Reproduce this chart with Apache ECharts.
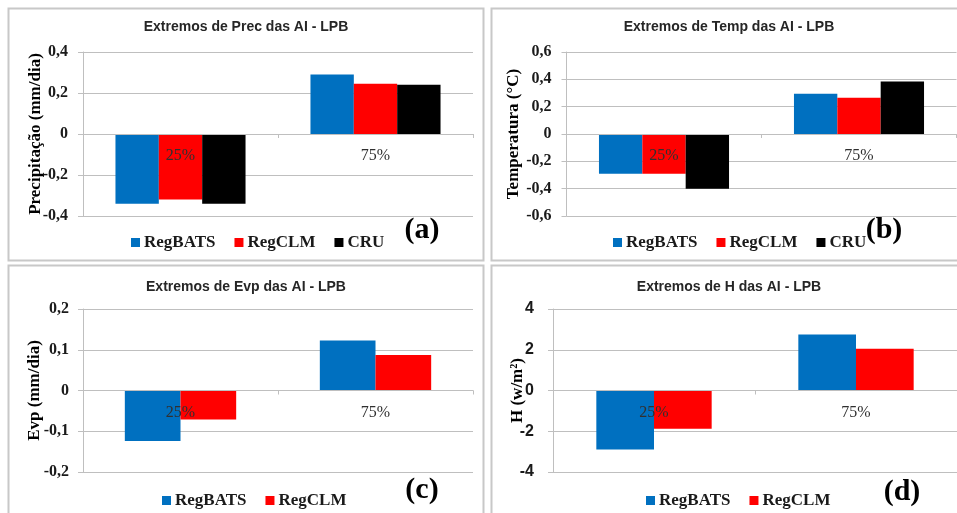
<!DOCTYPE html>
<html>
<head>
<meta charset="utf-8">
<script src="https://cdn.jsdelivr.net/npm/echarts@6/dist/echarts.min.js"></script>
<style>
  html, body { margin: 0; padding: 0; background: #ffffff; }
  #chart { width: 957px; height: 513px; }
</style>
</head>
<body>
<div id="chart"></div>
<script>
// Quartile categories
const categories = ['25%', '75%'];
const seriesNames3 = ['RegBATS', 'RegCLM', 'CRU'];
const seriesNames2 = ['RegBATS', 'RegCLM'];

// Precipitation extremes (mm/dia)
const precRegBATS = [-0.34, 0.29];
const precRegCLM  = [-0.32, 0.245];
const precCRU     = [-0.34, 0.24];

// Temperature extremes (°C)
const tempRegBATS = [-0.29, 0.295];
const tempRegCLM  = [-0.29, 0.265];
const tempCRU     = [-0.40, 0.385];

// Evaporation extremes (mm/dia)
const evpRegBATS = [-0.124, 0.123];
const evpRegCLM  = [-0.071, 0.087];

// Sensible heat flux extremes (w/m²)
const hRegBATS = [-2.9, 2.75];
const hRegCLM  = [-1.88, 2.05];

// Y axis ranges: [min, max, interval]
const precAxis = [-0.4, 0.4, 0.2];
const tempAxis = [-0.6, 0.6, 0.2];
const evpAxis  = [-0.2, 0.2, 0.1];
const hAxis    = [-4, 4, 2];

const COLORS = { RegBATS: '#0070C0', RegCLM: '#FF0000', CRU: '#000000' };
const SERIF = '"Liberation Serif", "Times New Roman", serif';
const SANS = '"Liberation Sans", Arial, sans-serif';
const GRID_GRAY = '#bfbfbf';

const panels = [
  {
    title: 'Extremos de Prec das AI - LPB', titleX: 246, titleY: 27,
    letter: '(a)', letterX: 422, letterY: 230,
    grid: { left: 83, top: 52, width: 390, height: 164 },
    axis: precAxis, yName: 'Precipitação (mm/dia)', nameGap: 39,
    labelFont: SERIF, labelMargin: 15,
    names: seriesNames3, values: [precRegBATS, precRegCLM, precCRU],
    gap: '33.3%', legend: { left: 126, top: 229 }
  },
  {
    title: 'Extremos de Temp das AI - LPB', titleX: 729, titleY: 27,
    letter: '(b)', letterX: 884, letterY: 230,
    grid: { left: 566.5, top: 52, width: 390, height: 164 },
    axis: tempAxis, yName: 'Temperatura (°C)', nameGap: 44,
    labelFont: SERIF, labelMargin: 15,
    names: seriesNames3, values: [tempRegBATS, tempRegCLM, tempCRU],
    gap: '33.3%', legend: { left: 608, top: 229 }
  },
  {
    title: 'Extremos de Evp das AI - LPB', titleX: 246, titleY: 287,
    letter: '(c)', letterX: 422, letterY: 490,
    grid: { left: 83, top: 309, width: 390, height: 163 },
    axis: evpAxis, yName: 'Evp (mm/dia)', nameGap: 40,
    labelFont: SERIF, labelMargin: 14,
    names: seriesNames2, values: [evpRegBATS, evpRegCLM],
    gap: '42.9%', legend: { left: 157, top: 487 }
  },
  {
    title: 'Extremos de H das AI - LPB', titleX: 729, titleY: 287,
    letter: '(d)', letterX: 902, letterY: 492,
    grid: { left: 553, top: 309, width: 404, height: 163 },
    axis: hAxis, yName: 'H (w/m²)', nameGap: 27,
    labelFont: SANS, labelMargin: 19,
    names: seriesNames2, values: [hRegBATS, hRegCLM],
    gap: '42.9%', legend: { left: 641, top: 487 }
  }
];

function fmt(v) {
  const s = Math.abs(v) < 1e-9 ? '0' : String(+v.toFixed(2));
  return s.replace('.', ',');
}

const grid = [], xAxis = [], yAxis = [], series = [], legend = [], graphic = [];

// Panel frames
const frames = [
  [8.5, 8.5, 475, 252],
  [491.5, 8.5, 480, 252],
  [8.5, 265.5, 475, 260],
  [491.5, 265.5, 480, 260]
];
frames.forEach(f => graphic.push({
  type: 'rect', silent: true, z: -10,
  shape: { x: f[0], y: f[1], width: f[2], height: f[3] },
  style: { fill: 'none', stroke: '#c8c8c8', lineWidth: 2 }
}));

panels.forEach((p, i) => {
  grid.push(Object.assign({ containLabel: false }, p.grid));
  // category axis sits on the zero line (axes are symmetric about zero)
  xAxis.push({
    type: 'category', gridIndex: i, data: categories, z: 10,
    position: 'bottom', offset: -p.grid.height / 2,
    axisLine: { onZero: false, lineStyle: { color: GRID_GRAY, width: 1 } },
    axisTick: { show: true, length: 4, lineStyle: { color: GRID_GRAY } },
    axisLabel: { fontFamily: SERIF, fontSize: 16, color: '#303030', margin: 14 },
    splitLine: { show: false }
  });
  yAxis.push({
    type: 'value', gridIndex: i,
    min: p.axis[0], max: p.axis[1], interval: p.axis[2],
    name: p.yName, nameLocation: 'middle', nameGap: p.nameGap, nameRotate: 90,
    nameMoveOverlap: false,
    nameTextStyle: { fontFamily: SERIF, fontSize: 17, fontWeight: 'bold', color: '#000' },
    axisLine: { show: true, lineStyle: { color: GRID_GRAY, width: 1 } },
    axisTick: { show: true, length: 5, lineStyle: { color: GRID_GRAY } },
    axisLabel: {
      fontFamily: p.labelFont, fontSize: 16, fontWeight: 'bold', color: '#1a1a1a',
      margin: p.labelMargin, formatter: fmt
    },
    splitLine: { show: true, lineStyle: { color: GRID_GRAY, width: 1 } }
  });
  p.names.forEach((n, k) => series.push({
    type: 'bar', name: n, xAxisIndex: i, yAxisIndex: i,
    data: p.values[k], barGap: '0%', barCategoryGap: p.gap,
    itemStyle: { color: COLORS[n] }
  }));
  legend.push({
    data: p.names, left: p.legend.left, top: p.legend.top,
    icon: 'rect', itemWidth: 9, itemHeight: 9, itemGap: 19,
    textStyle: { fontFamily: SERIF, fontSize: 17, fontWeight: 'bold', color: '#1a1a1a', padding: [0, 0, 0, -1] },
    selectedMode: false
  });
  graphic.push({
    type: 'text', silent: true, x: p.titleX, y: p.titleY,
    style: { text: p.title, fontFamily: SANS, fontSize: 14, fontWeight: 'bold', fill: '#262626',
             align: 'center', verticalAlign: 'middle' }
  });
  graphic.push({
    type: 'text', silent: true, x: p.letterX, y: p.letterY,
    style: { text: p.letter, fontFamily: SERIF, fontSize: 30, fontWeight: 'bold', fill: '#000',
             align: 'center', verticalAlign: 'middle' }
  });
});

const chart = echarts.init(document.getElementById('chart'), null, { renderer: 'canvas' });
chart.setOption({
  backgroundColor: '#ffffff',
  animation: false,
  grid, xAxis, yAxis, series, legend, graphic
});
</script>
</body>
</html>
